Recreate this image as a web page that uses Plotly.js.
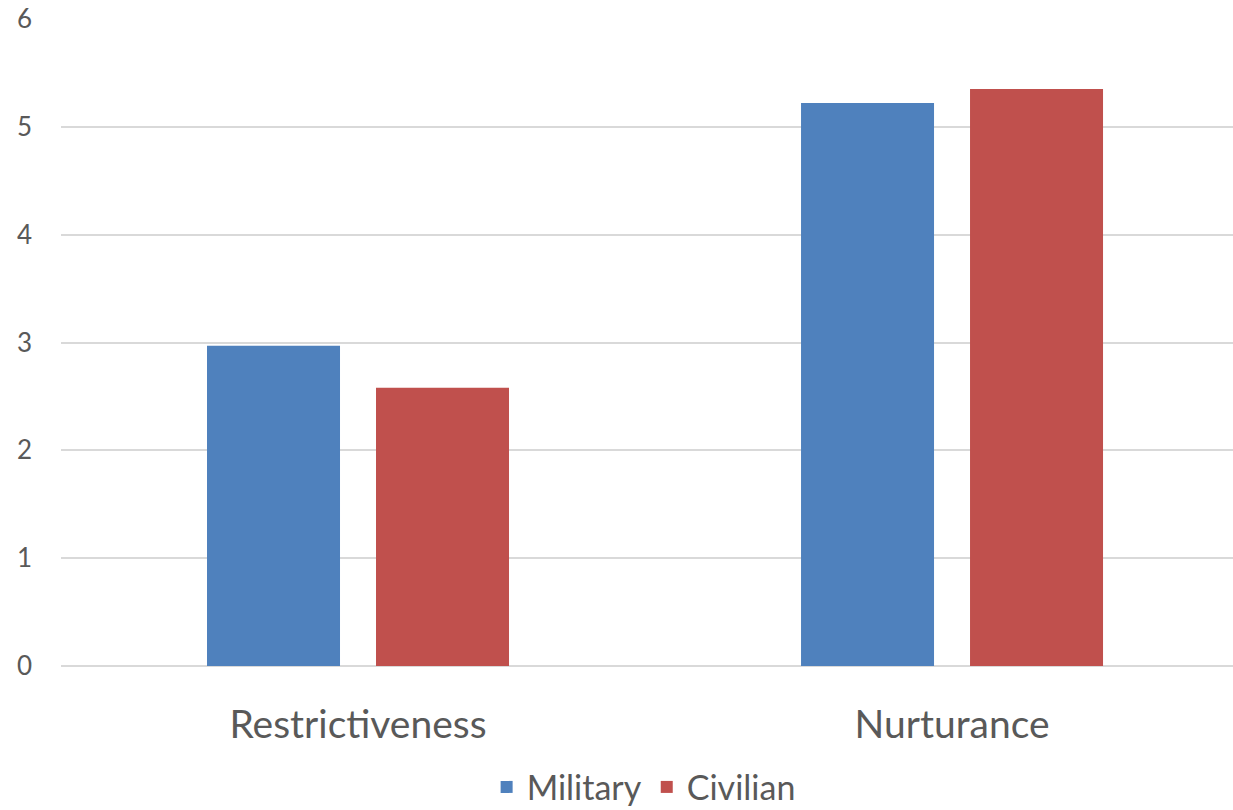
<!DOCTYPE html>
<html>
<head>
<meta charset="utf-8">
<script src="https://cdn.plot.ly/plotly-3.0.1.min.js"></script>
<style>html,body{margin:0;padding:0;background:#fff;}#chart{width:1233px;height:810px;}</style>
</head>
<body>
<div id="chart"></div>
<script>
const categories = ["Restrictiveness", "Nurturance"];
const military = [2.97, 5.22];
const civilian = [2.58, 5.35];
const yTicks = [0, 1, 2, 3, 4, 5, 6];

const font = "Lato, 'Open Sans', sans-serif";
const traces = [
  {type: "bar", name: "Military", x: categories, y: military, marker: {color: "#4F81BD"}, hoverinfo: "y"},
  {type: "bar", name: "Civilian", x: categories, y: civilian, marker: {color: "#C0504D"}, hoverinfo: "y"}
];
const layout = {
  width: 1233, height: 810,
  margin: {l: 61, r: 0, t: 19, b: 144},
  paper_bgcolor: "#fff", plot_bgcolor: "#fff",
  barmode: "group", bargap: 0.431, bargroupgap: 0.213,
  font: {family: font, color: "#595959"},
  xaxis: {
    type: "category", range: [-0.5, 1.473], automargin: false,
    showgrid: false, showline: false, ticks: "",
    tickfont: {size: 39, color: "#595959", family: font},
    ticklabelstandoff: 32
  },
  yaxis: {
    range: [0, 6], tickvals: yTicks, ticktext: yTicks.map(String), automargin: false,
    showgrid: true, gridcolor: "#d9d9d9", gridwidth: 2,
    zeroline: true, zerolinecolor: "#d9d9d9", zerolinewidth: 2,
    showline: false, ticks: "",
    tickfont: {size: 26, color: "#595959", family: font},
    ticklabelstandoff: 28
  },
  showlegend: true,
  legend: {
    orientation: "h", xref: "container", x: 0.522, xanchor: "center",
    yref: "container", y: 0.028, yanchor: "middle",
    font: {size: 34, color: "#595959", family: font},
    itemwidth: 30, traceorder: "normal"
  }
};
Plotly.newPlot("chart", traces, layout, {displayModeBar: false, staticPlot: true});
</script>
</body>
</html>
